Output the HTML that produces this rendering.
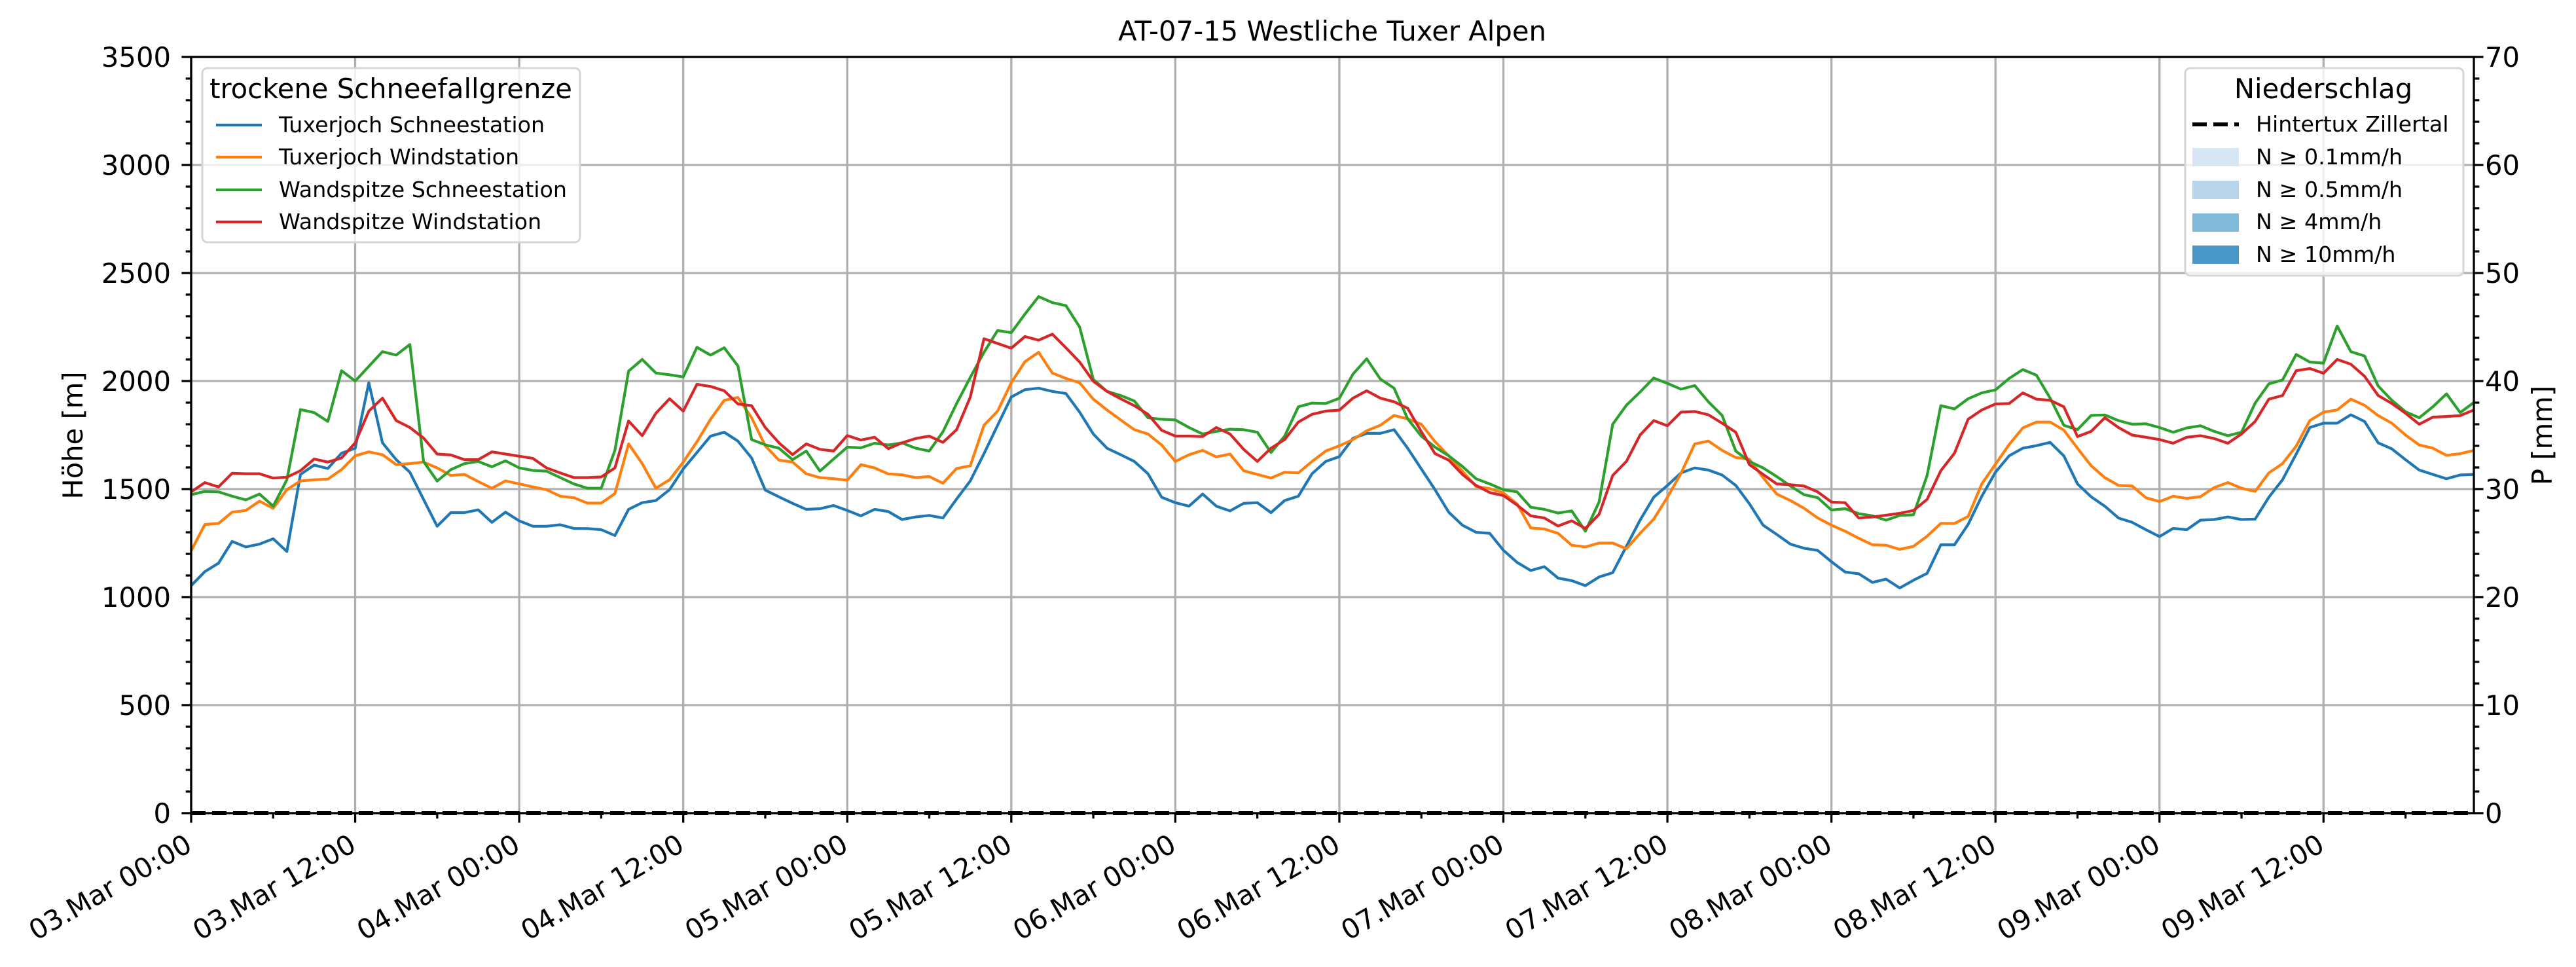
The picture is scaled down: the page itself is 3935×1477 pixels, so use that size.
<!DOCTYPE html>
<html><head><meta charset="utf-8"><style>
html,body{margin:0;padding:0;background:#fff;}
svg{display:block;font-family:"DejaVu Sans","Liberation Sans",sans-serif;}
</style></head><body>
<svg id="chart" width="3935" height="1477" viewBox="0 0 3935 1477" xmlns="http://www.w3.org/2000/svg">
<g id="grid"></g>
<g id="series"></g>
<g id="axes"></g>
<text x="2035" y="62" font-size="41.7" text-anchor="middle">AT-07-15 Westliche Tuxer Alpen</text>
<text x="0" y="0" font-size="41.7" text-anchor="middle" transform="translate(126,665) rotate(-90)">Höhe [m]</text>
<text x="0" y="0" font-size="41.7" text-anchor="middle" transform="translate(3898,665) rotate(-90)">P [mm]</text>
<g>
<rect x="309" y="104" width="577" height="266" rx="8" fill="#fff" fill-opacity="0.8" stroke="#d6d6d6" stroke-width="3"/>
<text x="597" y="150" font-size="41.7" text-anchor="middle">trockene Schneefallgrenze</text>
<g><line x1="330" y1="191" x2="400" y2="191" stroke="#1f77b4" stroke-width="4.2"/><text x="426" y="202" font-size="33.3">Tuxerjoch Schneestation</text></g>
<g><line x1="330" y1="240" x2="400" y2="240" stroke="#ff7f0e" stroke-width="4.2"/><text x="426" y="251" font-size="33.3">Tuxerjoch Windstation</text></g>
<g><line x1="330" y1="290" x2="400" y2="290" stroke="#2ca02c" stroke-width="4.2"/><text x="426" y="301" font-size="33.3">Wandspitze Schneestation</text></g>
<g><line x1="330" y1="339" x2="400" y2="339" stroke="#d62728" stroke-width="4.2"/><text x="426" y="350" font-size="33.3">Wandspitze Windstation</text></g>
</g>
<g>
<rect x="3338" y="104" width="425" height="317" rx="8" fill="#fff" fill-opacity="0.8" stroke="#d6d6d6" stroke-width="3"/>
<text x="3549" y="150" font-size="41.7" text-anchor="middle">Niederschlag</text>
<g><line x1="3349" y1="190" x2="3420" y2="190" stroke="#000" stroke-width="6" stroke-dasharray="22,10"/><text x="3446" y="201" font-size="33.3">Hintertux Zillertal</text></g>
<g><rect x="3349" y="226" width="71" height="28" fill="#d6e6f4"/><text x="3446" y="251" font-size="33.3">N ≥ 0.1mm/h</text></g>
<g><rect x="3349" y="276" width="71" height="28" fill="#b7d4ea"/><text x="3446" y="301" font-size="33.3">N ≥ 0.5mm/h</text></g>
<g><rect x="3349" y="326" width="71" height="28" fill="#82badb"/><text x="3446" y="350" font-size="33.3">N ≥ 4mm/h</text></g>
<g><rect x="3349" y="375" width="71" height="28" fill="#4a98c9"/><text x="3446" y="400" font-size="33.3">N ≥ 10mm/h</text></g>
</g>
</svg>
<script>
const tuxSchnee=[1053,1118,1157,1258,1232,1245,1270,1211,1568,1611,1595,1666,1689,1992,1714,1636,1578,1452,1328,1391,1391,1404,1346,1393,1353,1328,1328,1335,1318,1317,1312,1285,1406,1437,1447,1497,1593,1669,1745,1763,1722,1644,1495,
1464,1434,1406,1409,1424,1401,1376,1406,1396,1359,1371,1378,1366,1454,1538,1664,1795,1926,1960,1967,1952,1942,1856,1755,1689,1659,1628,1571,1462,1437,1421,1477,1421,1399,1434,1437,1391,1447,1467,1571,1628,1650,
1735,1758,1758,1775,1689,1593,1497,1393,1333,1300,1295,1217,1161,1123,1141,1088,1076,1053,1093,1113,1235,1356,1462,1517,1575,1598,1588,1565,1517,1432,1333,1290,1245,1226,1216,1164,1116,1108,1068,1083,1042,
1078,1110,1242,1242,1336,1467,1578,1654,1689,1701,1716,1654,1524,1464,1421,1366,1346,1312,1280,1318,1312,1356,1359,1371,1359,1361,1462,1543,1662,1785,1805,1805,1844,1813,1714,1686,1636,1588,1568,1548,1565,1568];
const tuxWind=[1214,1336,1341,1393,1401,1444,1411,1497,1538,1543,1546,1590,1654,1672,1659,1613,1618,1625,1598,1563,1568,1535,1504,1538,1524,1510,1497,1467,1460,1435,1435,1479,1709,1618,1504,1543,1625,1719,1823,1911,1924,1830,1700,
1634,1625,1571,1553,1548,1541,1613,1598,1570,1566,1553,1558,1527,1595,1608,1795,1861,1992,2090,2133,2037,2012,1992,1916,1866,1820,1775,1755,1704,1628,1659,1679,1649,1662,1585,1568,1551,1578,1575,1628,1676,1700,
1729,1770,1795,1841,1825,1800,1719,1654,1583,1512,1502,1482,1431,1320,1315,1295,1240,1232,1250,1250,1224,1295,1361,1462,1573,1709,1722,1679,1646,1638,1553,1477,1447,1411,1366,1333,1305,1272,1242,1240,1221,
1235,1282,1341,1341,1373,1524,1615,1706,1783,1810,1810,1773,1689,1608,1553,1517,1514,1460,1442,1467,1457,1465,1507,1530,1504,1489,1575,1618,1699,1817,1856,1866,1916,1888,1840,1805,1750,1704,1689,1656,1664,1679];
const wandSchnee=[1474,1489,1487,1467,1450,1477,1421,1543,1868,1854,1813,2048,2000,2068,2136,2120,2169,1628,1537,1590,1618,1628,1603,1631,1598,1586,1583,1553,1524,1504,1504,1679,2046,2100,2037,2029,2019,2156,2120,2154,2070,1729,1705,
1689,1636,1676,1583,1639,1694,1691,1712,1704,1714,1689,1676,1765,1896,2017,2133,2234,2224,2310,2391,2363,2349,2250,2007,1952,1933,1908,1830,1823,1820,1785,1755,1767,1777,1775,1763,1669,1745,1881,1898,1896,1920,
2032,2103,2009,1967,1825,1745,1694,1654,1605,1548,1524,1497,1487,1416,1406,1389,1399,1305,1440,1800,1888,1949,2014,1989,1962,1979,1904,1841,1676,1628,1598,1558,1514,1474,1460,1403,1409,1386,1376,1356,1378,
1381,1563,1886,1871,1918,1945,1959,2012,2053,2027,1921,1795,1775,1841,1843,1817,1800,1802,1785,1763,1783,1793,1767,1747,1763,1898,1987,2005,2123,2088,2083,2255,2136,2116,1977,1911,1858,1830,1881,1941,1854,1901];
const wandWind=[1487,1530,1510,1573,1571,1571,1551,1555,1585,1639,1625,1644,1714,1861,1921,1817,1785,1736,1662,1658,1636,1636,1672,1662,1652,1642,1598,1575,1553,1553,1556,1598,1815,1747,1851,1918,1861,1985,1975,1955,1894,1886,1785,
1714,1659,1709,1684,1676,1748,1727,1740,1687,1714,1734,1745,1716,1775,1926,2196,2174,2152,2206,2189,2217,2154,2088,1999,1952,1918,1886,1846,1772,1745,1745,1743,1785,1755,1684,1628,1689,1729,1810,1846,1861,1865,
1921,1955,1921,1904,1874,1765,1664,1634,1568,1517,1484,1470,1426,1376,1366,1329,1353,1318,1383,1563,1628,1750,1817,1793,1856,1859,1844,1805,1763,1613,1568,1524,1520,1514,1487,1440,1437,1366,1371,1379,1388,
1401,1452,1585,1666,1823,1866,1894,1896,1945,1916,1911,1881,1743,1767,1830,1785,1750,1740,1729,1712,1740,1747,1734,1712,1755,1813,1916,1933,2048,2058,2036,2100,2078,2022,1933,1896,1851,1800,1833,1836,1840,1866];
const precipHours=[0,167];
const precipValues=[0,0];
const yTicks=[0,500,1000,1500,2000,2500,3000,3500];
const y2Ticks=[0,10,20,30,40,50,60,70];
const xTickLabels=["03.Mar 00:00","03.Mar 12:00","04.Mar 00:00","04.Mar 12:00","05.Mar 00:00","05.Mar 12:00","06.Mar 00:00","06.Mar 12:00","07.Mar 00:00","07.Mar 12:00","08.Mar 00:00","08.Mar 12:00","09.Mar 00:00","09.Mar 12:00"];

const L=292,R=3779,T=87,B=1242;
const HMAX=167;
const xs=h=>L+(R-L)*h/HMAX;
const ys=v=>B-(B-T)*v/3500;
const ys2=v=>B-(B-T)*v/70;
const NS='http://www.w3.org/2000/svg';
function mk(tag,attrs,parent){const e=document.createElementNS(NS,tag);for(const k in attrs)e.setAttribute(k,attrs[k]);parent.appendChild(e);return e;}
const grid=document.getElementById('grid'),ser=document.getElementById('series'),ax=document.getElementById('axes');

yTicks.forEach(v=>{const g=mk('line',{x1:L,x2:R,y1:ys(v),y2:ys(v),stroke:'#b0b0b0','stroke-width':3.3},grid);

});
xTickLabels.forEach((t,i)=>{const x=xs(i*12);const g=mk('line',{x1:x,x2:x,y1:T,y2:B,stroke:'#b0b0b0','stroke-width':3.3},grid);

});

const seriesList=[[tuxSchnee,'#1f77b4','line-tuxerjoch-schneestation'],[tuxWind,'#ff7f0e','line-tuxerjoch-windstation'],[wandSchnee,'#2ca02c','line-wandspitze-schneestation'],[wandWind,'#d62728','line-wandspitze-windstation']];
seriesList.forEach(([d,c,n])=>{const p=d.map((v,i)=>(i?'L':'M')+xs(i).toFixed(1)+','+ys(v).toFixed(1)).join('');
const e=mk('path',{d:p,fill:'none',stroke:c,'stroke-width':4.2,'stroke-linejoin':'round'},ser);

});
const pp=precipHours.map((h,i)=>(i?'L':'M')+xs(h)+','+ys2(precipValues[i])).join('');
const pe=mk('path',{d:pp,fill:'none',stroke:'#000','stroke-width':6,'stroke-dasharray':'22,10'},ser);



const fr=mk('rect',{x:L,y:T,width:R-L,height:B-T,fill:'none',stroke:'#000','stroke-width':3.3},ax);


for(let v=0;v<=3500;v+=100){const major=v%500===0;mk('line',{x1:L,x2:L-(major?14.6:8.3),y1:ys(v),y2:ys(v),stroke:'#000','stroke-width':3.3},ax);}
yTicks.forEach(v=>{const t=mk('text',{x:261,y:ys(v)+15,'font-size':41.7,'text-anchor':'end'},ax);t.textContent=v;

});
for(let v=0;v<=70;v+=2){const major=v%10===0;mk('line',{x1:R,x2:R+(major?14.6:8.3),y1:ys2(v),y2:ys2(v),stroke:'#000','stroke-width':3.3},ax);}
y2Ticks.forEach(v=>{const t=mk('text',{x:3796,y:ys2(v)+15,'font-size':41.7},ax);t.textContent=v;

});
for(let h=0;h<=HMAX;h+=6){const major=h%12===0;mk('line',{x1:xs(h),x2:xs(h),y1:B,y2:B+(major?14.6:8.3),stroke:'#000','stroke-width':3.3},ax);}
xTickLabels.forEach((s,i)=>{const x=xs(i*12);const t=mk('text',{x:0,y:0,'font-size':41.7,'text-anchor':'end',transform:`translate(${x+4},1298) rotate(-30)`},ax);t.textContent=s;

});
</script>
</body></html>
